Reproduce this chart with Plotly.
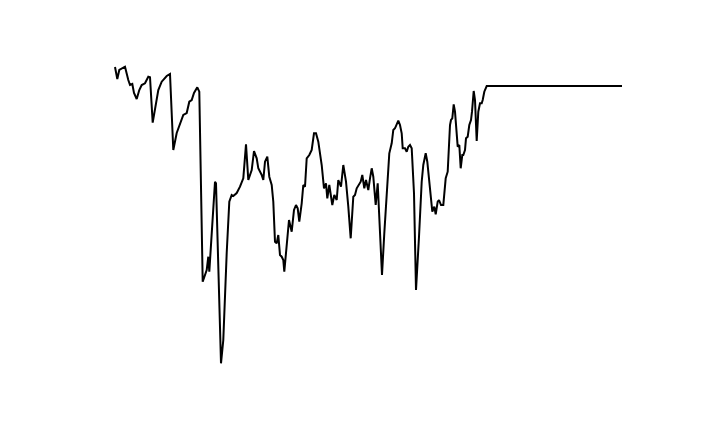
import plotly.graph_objects as go

# time steps and values
t = [0, 2.3, 4.3, 8.3, 10, 13.3, 15, 17.3, 19, 21.7,
     24.3, 26.7, 30, 33.3, 35, 37.7, 40, 43.3, 46.7, 51.7,
     55, 58.3, 61.7, 65, 68.3, 71.7, 74.3, 76.7, 79, 82.3,
     84.3, 87.7, 91.7, 93.3, 94.3, 100, 101, 106, 108.3, 111.7,
     114.3, 116.7, 118.3, 121.7, 125, 128.3, 131, 133.3, 136.7, 139,
     141.7, 143.3, 146.7, 148.3, 150, 152.3, 154.3, 156.7, 158.3, 160,
     161.7, 163.3, 165, 166.7, 168.3, 169.3, 171.7, 174, 176.7, 179,
     181, 182.7, 184.3, 186.7, 188.3, 190, 191.7, 194.3, 196.7, 199,
     201, 203.3, 206.7, 209, 211, 212.3, 214.3, 217.3, 219.3, 221.7,
     223.3, 226, 228.3, 231, 233.3, 235.7, 238.3, 240, 241.7, 244,
     245.7, 247.3, 249.3, 251, 253.3, 255, 256.7, 258.3, 260.7, 262.7,
     264.3, 267, 269.3, 271.7, 274.3, 276.7, 278.3, 280, 281.7, 283.3,
     285, 286.7, 287.7, 290, 291.7, 293.3, 295, 296.7, 299, 301,
     304, 306.7, 308.3, 310.7, 312.3, 314, 316, 317.3, 319.3, 320.7,
     322.7, 324, 326, 328.3, 330.7, 332.7, 335, 336, 337.3, 338.7,
     340, 341.7, 342.7, 344.3, 345.7, 347.3, 348.3, 350, 351, 352.7,
     354.3, 356, 357, 358.7, 360, 361.7, 363.3, 365, 366.7, 367.7,
     369.3, 371.7, 507]

values = [333, 321, 330, 332.7, 333.3, 320, 315, 316, 307, 301,
          310, 315, 316.7, 323.3, 322.7, 277.3, 290, 310, 318.3, 324,
          326, 250, 267, 277, 285, 287, 298.3, 300, 307, 312.7,
          308.3, 118.3, 130, 143.3, 128.3, 218.3, 216.7, 36.7, 60, 147,
          198.3, 205, 204, 207, 213.3, 221.7, 255.7, 220, 230, 249,
          241.7, 231.7, 225, 220, 238.3, 243.3, 223.3, 215, 198.3, 158.3,
          156.7, 165, 145, 143.3, 140, 128.3, 158.3, 180, 168.3, 190,
          195, 191.7, 178.3, 196.7, 215, 213.3, 241.7, 245, 250, 266.7,
          266.7, 258.3, 235, 211.7, 216.7, 201.7, 215, 195, 205, 200,
          220, 213.3, 235, 218.3, 193.3, 161.7, 203.3, 205, 211.7, 215,
          218.3, 225, 211.7, 220, 210, 221.7, 231.7, 223.3, 195, 216.7,
          176.7, 125, 166.7, 211.7, 246.7, 256.7, 270, 271.7, 275, 279.3,
          275, 266.7, 251.7, 251.7, 248.3, 253.3, 255, 251.7, 206.7, 110,
          163.3, 218.3, 235, 246.7, 238.3, 218.3, 201.7, 188.3, 193.3, 185.7,
          198.3, 200, 195, 195, 221.7, 228.3, 275, 280, 281.7, 295.7,
          288.3, 266.7, 253.3, 255, 231.7, 245, 245, 250, 261.7, 263.3,
          275, 280, 288.3, 309, 300, 259, 288.3, 296.7, 296.7, 300,
          308.3, 314, 314]

fig = go.Figure(go.Scatter(
    x=t, y=values,
    mode="lines",
    line=dict(color="black", width=2),
    hoverinfo="skip",
    showlegend=False))

# the page sits 8px in from the window corner, so margins are shifted
fig.update_layout(
    width=720, height=432,
    margin=dict(l=102, r=101, t=53, b=72),
    paper_bgcolor="white",
    plot_bgcolor="white",
    xaxis=dict(range=[-5, 512], visible=False),
    yaxis=dict(range=[32, 339], visible=False))

fig.write_html("out.html")
